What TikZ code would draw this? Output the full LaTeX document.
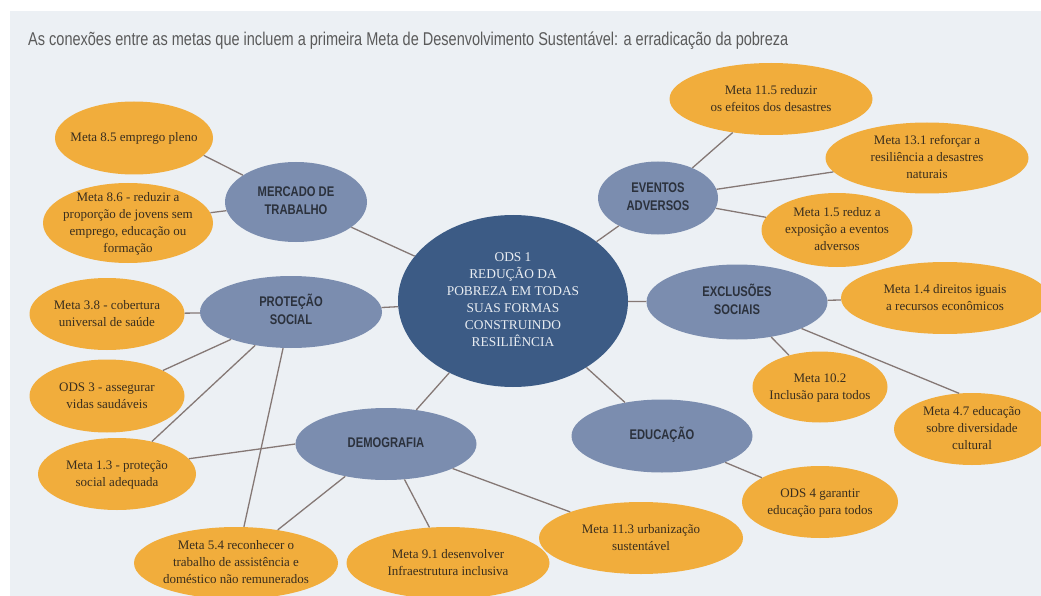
\documentclass[tikz,border=0pt]{standalone}
\usepackage{fontspec}
\setmainfont{Liberation Serif}
\newfontfamily\titlefont[FakeStretch=0.785]{Liberation Sans}
\newfontfamily\catfont[FakeStretch=0.8]{Liberation Sans}
\usetikzlibrary{shapes.geometric}
\definecolor{panel}{HTML}{ECF0F4}
\definecolor{centerfill}{HTML}{3C5B85}
\definecolor{centertext}{HTML}{E9EDF2}
\definecolor{catfill}{HTML}{7B8DAF}
\definecolor{cattext}{HTML}{2B313C}
\definecolor{goalfill}{HTML}{F1AD3C}
\definecolor{goaltext}{HTML}{3A2E1E}
\definecolor{linecol}{HTML}{857875}
\definecolor{titlecol}{HTML}{5A5A5A}
\newcommand{\ztext}[1]{\smash{\makebox[0pt]{\raisebox{-0.25em}{\begin{tabular}{@{}c@{}}#1\end{tabular}}}}}
\begin{document}
\begin{tikzpicture}[x=1pt,y=-1pt,
  goal/.style={ellipse, fill=goalfill, draw=none, inner sep=0pt, text=goaltext,
    font=\fontsize{13}{17}\selectfont},
  cat/.style={ellipse, fill=catfill, draw=none, inner sep=0pt, text=cattext,
    font=\catfont\bfseries\fontsize{14}{18}\selectfont},
  core/.style={ellipse, fill=centerfill, draw=none, inner sep=0pt, text=centertext,
    font=\fontsize{13.4}{17}\selectfont},
  link/.style={draw=linecol, line width=1.3pt},
  sz/.style 2 args={minimum width=#1pt, minimum height=#2pt}]
\useasboundingbox (0,0) rectangle (1041,596);
\fill[white] (0,0) rectangle (1041,596);
\fill[panel] (10,11) rectangle (1041,596);
\node[anchor=base west, text=titlecol, font=\titlefont\fontsize{18.5}{21}\selectfont, inner sep=0pt] (title) at (28,46)
  {As conexões entre as metas que incluem a primeira Meta de Desenvolvimento Sustentável: a erradicação da pobreza};

% centre
\node[core, sz={230}{172}] (ods1) at (513,301) {\ztext{ODS 1\\REDUÇÃO DA\\POBREZA EM TODAS\\SUAS FORMAS\\CONSTRUINDO\\RESILIÊNCIA}};

% categories
\node[cat, sz={142}{80}] (merc) at (296,202) {\ztext{MERCADO DE\\TRABALHO}};
\node[cat, sz={182}{72}] (prot) at (291,312) {\ztext{PROTEÇÃO\\SOCIAL}};
\node[cat, sz={181}{72}] (dem) at (386,444) {\ztext{DEMOGRAFIA}};
\node[cat, sz={181}{73}] (edu) at (662,436) {\ztext{EDUCAÇÃO}};
\node[cat, sz={181}{75}] (exc) at (737,302) {\ztext{EXCLUSÕES\\SOCIAIS}};
\node[cat, sz={120}{73}] (evt) at (658,198) {\ztext{EVENTOS\\ADVERSOS}};

% goals
\node[goal, sz={158}{73}] (m85) at (134,138) {\ztext{Meta 8.5 emprego pleno}};
\node[goal, sz={170}{80}] (m86) at (128,223) {\ztext{Meta 8.6 - reduzir a\\proporção de jovens sem\\emprego, educação ou\\formação}};
\node[goal, sz={155}{72}] (m38) at (107,314) {\ztext{Meta 3.8 - cobertura\\universal de saúde}};
\node[goal, sz={155}{73}] (ods3) at (107,396) {\ztext{ODS 3 - assegurar\\vidas saudáveis}};
\node[goal, sz={158}{72}] (m13) at (117,474) {\ztext{Meta 1.3 - proteção\\social adequada}};
\node[goal, sz={204}{72}] (m54) at (236,563) {\ztext{Meta 5.4 reconhecer o\\trabalho de assistência e\\doméstico não remunerados}};
\node[goal, sz={203}{72}] (m91) at (448,563) {\ztext{Meta 9.1 desenvolver\\Infraestrutura inclusiva}};
\node[goal, sz={204}{72}] (m113) at (641,538) {\ztext{Meta 11.3 urbanização\\sustentável}};
\node[goal, sz={156}{72}] (ods4) at (820,502) {\ztext{ODS 4 garantir\\educação para todos}};
\node[goal, sz={208}{72}] (m14) at (945,298) {\ztext{Meta 1.4 direitos iguais\\a recursos econômicos}};
\node[goal, sz={135}{71}] (m102) at (820,387) {\ztext{Meta 10.2\\Inclusão para todos}};
\node[goal, sz={156}{72}] (m47) at (972,429) {\ztext{Meta 4.7 educação\\sobre diversidade\\cultural}};
\node[goal, sz={203}{72}] (m115) at (771,99) {\ztext{Meta 11.5 reduzir\\os efeitos dos desastres}};
\node[goal, sz={203}{71}] (m131) at (927,158) {\ztext{Meta 13.1 reforçar a\\resiliência a desastres\\naturais}};
\node[goal, sz={151}{74}] (m15) at (837,230) {\ztext{Meta 1.5 reduz a\\exposição a eventos\\adversos}};

% connectors
\draw[link] (merc) -- (m85.-14);
\draw[link] (merc) -- (m86);
\draw[link] (merc) -- (ods1);
\draw[link] (prot) -- (m38);
\draw[link] (prot) -- (ods3);
\draw[link] (prot) -- (m13);
\draw[link] (prot) -- (m54);
\draw[link] (prot) -- (ods1);
\draw[link] (dem.west) -- (m13.12);
\draw[link] (dem) -- (m54);
\draw[link] (dem) -- (m91);
\draw[link] (dem) -- (m113);
\draw[link] (dem) -- (ods1);
\draw[link] (evt) -- (ods1);
\draw[link] (evt) -- (m115);
\draw[link] (evt) -- (m131);
\draw[link] (evt) -- (m15);
\draw[link] (exc) -- (ods1);
\draw[link] (exc) -- (m14);
\draw[link] (exc) -- (m102);
\draw[link] (exc) -- (m47.110);
\draw[link] (edu) -- (ods1);
\draw[link] (edu) -- (ods4);
\end{tikzpicture}
\end{document}
